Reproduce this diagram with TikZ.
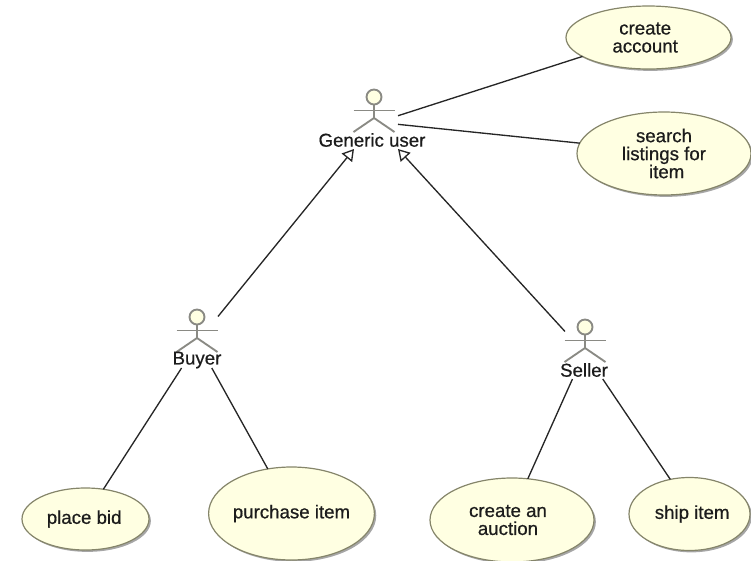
\documentclass[tikz,border=0pt]{standalone}
\usepackage{fontspec}
\setmainfont{Liberation Sans}[FakeBold=0.6]
\usetikzlibrary{arrows.meta,shapes.geometric,shadows}

\definecolor{usecasefill}{HTML}{FFFFE2}
\definecolor{usecaseline}{HTML}{85856A}
\definecolor{actorline}{HTML}{8A8A84}
\definecolor{textcol}{HTML}{1C1C1C}

\tikzset{
  usecase/.style={ellipse, draw=usecaseline, fill=usecasefill, line width=0.9pt,
    inner sep=0pt, outer sep=0pt, align=center, text=textcol,
    drop shadow={shadow xshift=1.4pt, shadow yshift=-1.4pt, fill=black, opacity=0.35}},
  actorbox/.style={rectangle, inner sep=0pt, outer sep=0pt},
  actorname/.style={inner sep=0pt, text=textcol},
  actorstroke/.style={draw=actorline, line width=1.4pt},
  assoc/.style={line width=1pt, draw=black!85},
  generalize/.style={line width=1pt, draw=black!85, -{Triangle[open,length=8.5pt,width=10pt]}}
}

\begin{document}
\begin{tikzpicture}[x=0.75pt, y=-0.75pt, every node/.style={font=\fontsize{14}{13.5}\selectfont}]

    \useasboundingbox (0,0) rectangle (751,561);

    % --- Use cases ---
    \node[usecase, minimum width=123.75pt, minimum height=47.25pt] (create) at (648.5,37.5) {create\hspace*{5pt}\\account\hspace*{5pt}};
    \node[usecase, minimum width=130.5pt, minimum height=62.25pt] (search) at (664,153.5) {search\\listings for\\\hspace*{4pt}item};
    \node[usecase, minimum width=95.25pt, minimum height=46.5pt] (place) at (85.5,519) {place bid\hspace*{2pt}};
    \node[usecase, minimum width=120.75pt, minimum height=69.75pt] (purchase) at (291.5,513.5) {purchase item};
    \node[usecase, minimum width=123pt, minimum height=63pt] (auction) at (512,520) {create an\hspace*{6pt}\\auction\hspace*{6pt}};
    \node[usecase, minimum width=90.75pt, minimum height=54.75pt] (ship) at (689.5,514) {\hspace*{4pt}ship item};

    % --- Actors ---
    \node[actorbox, minimum width=36pt, minimum height=48pt] (generic) at (374,117) {};
    \node[actorbox, minimum width=31.5pt, minimum height=43.5pt] (buyer) at (197,339) {};
    \node[actorbox, minimum width=30pt, minimum height=44.25pt] (seller) at (585,349.5) {};

    \foreach \hx/\hy/\lx/\ly/\who/\txt in {374/97/372/140/genericname/Generic user, 197/317/197/360/buyername/Buyer, 585/327/584/370/sellername/Seller}{
      \draw[actorstroke, fill=usecasefill] (\hx,\hy) circle[radius=7.5];
      \draw[actorstroke] (\hx-20.5,\hy+13.5) -- (\hx+20.5,\hy+13.5);
      \draw[actorstroke] (\hx,\hy+7) -- (\hx,\hy+21);
      \draw[actorstroke] (\hx-20.5,\hy+35) -- (\hx,\hy+21) -- (\hx+20.5,\hy+35);
      \node[actorname] (\who) at (\lx,\ly) {\txt};
    }

    % --- Associations ---
    \draw[assoc] (generic.3.8) -- (create.196.3);
    \draw[assoc] (generic.-17) -- (search.173.3);
    \draw[assoc] (buyer.242.7) -- (place.59.2);
    \draw[assoc] (buyer.297.3) -- (purchase.118.3);
    \draw[assoc] (seller.247.9) -- (auction.69.1);
    \draw[assoc] (seller.301.4) -- (ship.119.8);

    % --- Generalizations ---
    \draw[generalize] (buyer.47.6) -- (generic.238);
    \draw[generalize] (seller.138.8) -- (generic.south east);

\end{tikzpicture}
\end{document}
